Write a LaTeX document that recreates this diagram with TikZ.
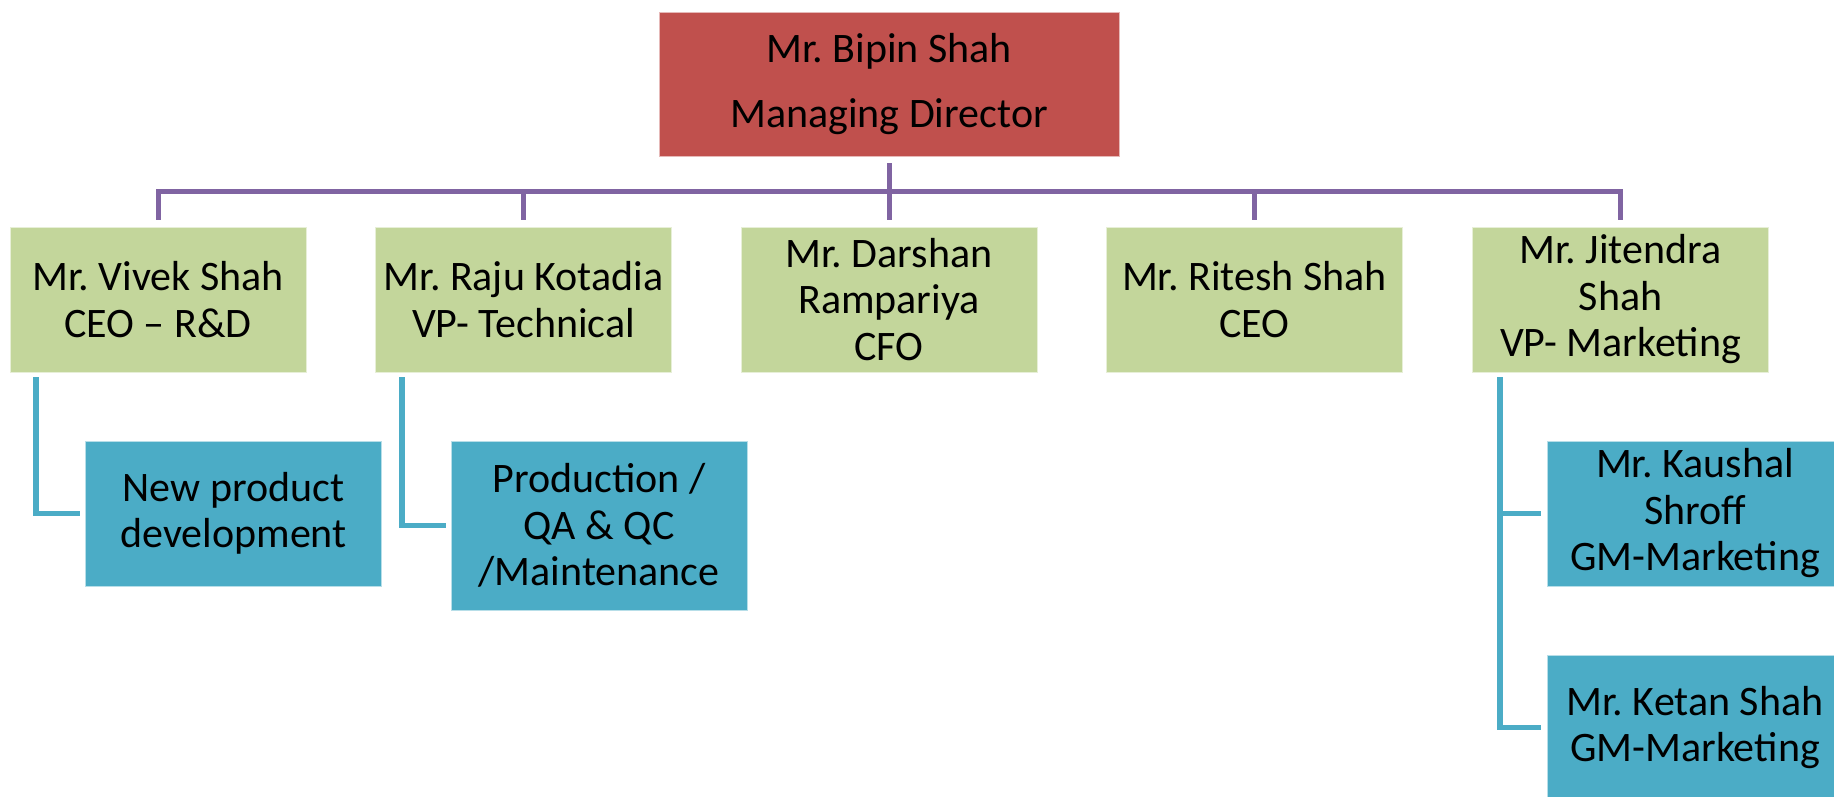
\documentclass[tikz,border=0pt]{standalone}
\usepackage{fontspec}
\setmainfont{Carlito}
\frenchspacing
\definecolor{mdred}{HTML}{C0504D}
\definecolor{vpgreen}{HTML}{C3D69B}
\definecolor{subblue}{HTML}{4BACC6}
\definecolor{buspurple}{HTML}{8064A2}
\tikzset{
  box/.style={rectangle, inner sep=0pt, align=center, text=black,
    draw=white!60!#1, line width=0.8pt, fill=#1,
    font=\fontsize{42}{46.5}\selectfont},
  topbox/.style={box=mdred, minimum width=460pt, minimum height=144pt},
  vpbox/.style={box=vpgreen, minimum width=296pt, minimum height=145pt},
  subbox/.style={box=subblue, minimum width=296pt, minimum height=145pt},
  pline/.style={draw=buspurple, line width=5pt},
  bline/.style={draw=subblue, line width=5.5pt},
}
\begin{document}
\begin{tikzpicture}[x=1pt, y=-1pt]
\useasboundingbox (0,0) rectangle (1834,797);
\clip (0,0) rectangle (1834,797);
\fill[white] (0,0) rectangle (1834,797);

\node[topbox] (md) at (889,84) {Mr. Bipin Shah\\[18.5pt]Managing Director};

\node[vpbox] (vivek)    at (158,299.5)    {Mr. Vivek Shah\\CEO – R\&D};
\node[vpbox] (raju)     at (523.5,299.5)  {Mr. Raju Kotadia\\VP- Technical};
\node[vpbox] (darshan)  at (889,299.5)    {Mr. Darshan\\Rampariya\\CFO};
\node[vpbox] (ritesh)   at (1254.5,299.5) {Mr. Ritesh Shah\\CEO};
\node[vpbox] (jitendra) at (1620.5,299.5) {Mr. Jitendra\\Shah\\VP- Marketing};

\node[subbox] (npd)     at (233.5,513.5) {New product\\development};
\node[subbox, minimum height=169pt] (prod) at (599,525.5) {Production /\\QA \& QC\\/Maintenance};
\node[subbox] (kaushal) at (1695,513.5) {Mr. Kaushal\\Shroff\\GM-Marketing};
\node[subbox] (ketan)   at (1695,727.5) {Mr. Ketan Shah\\GM-Marketing};

% purple bus
\coordinate (bus) at (889,191);
\draw[pline] ([yshift=-7pt]md.south) -- (bus);
\draw[pline] ([yshift=7pt]vivek.north) |- (bus) -| ([yshift=7pt]jitendra.north);
\draw[pline] ([yshift=7pt]raju.north) -- (bus -| raju.north);
\draw[pline] ([yshift=7pt]darshan.north) -- (bus);
\draw[pline] ([yshift=7pt]ritesh.north) -- (bus -| ritesh.north);

% blue connectors
\draw[bline] ([shift={(26.5pt,-5pt)}]vivek.south west) |- ([xshift=-5pt]npd.west);
\draw[bline] ([shift={(27pt,-5pt)}]raju.south west) |- ([xshift=-5pt]prod.west);
\draw[bline] ([shift={(28pt,-5pt)}]jitendra.south west) |- ([xshift=-6pt]kaushal.west);
\draw[bline] ([shift={(28pt,-5pt)}]jitendra.south west) |- ([xshift=-6pt]ketan.west);
\end{tikzpicture}
\end{document}
